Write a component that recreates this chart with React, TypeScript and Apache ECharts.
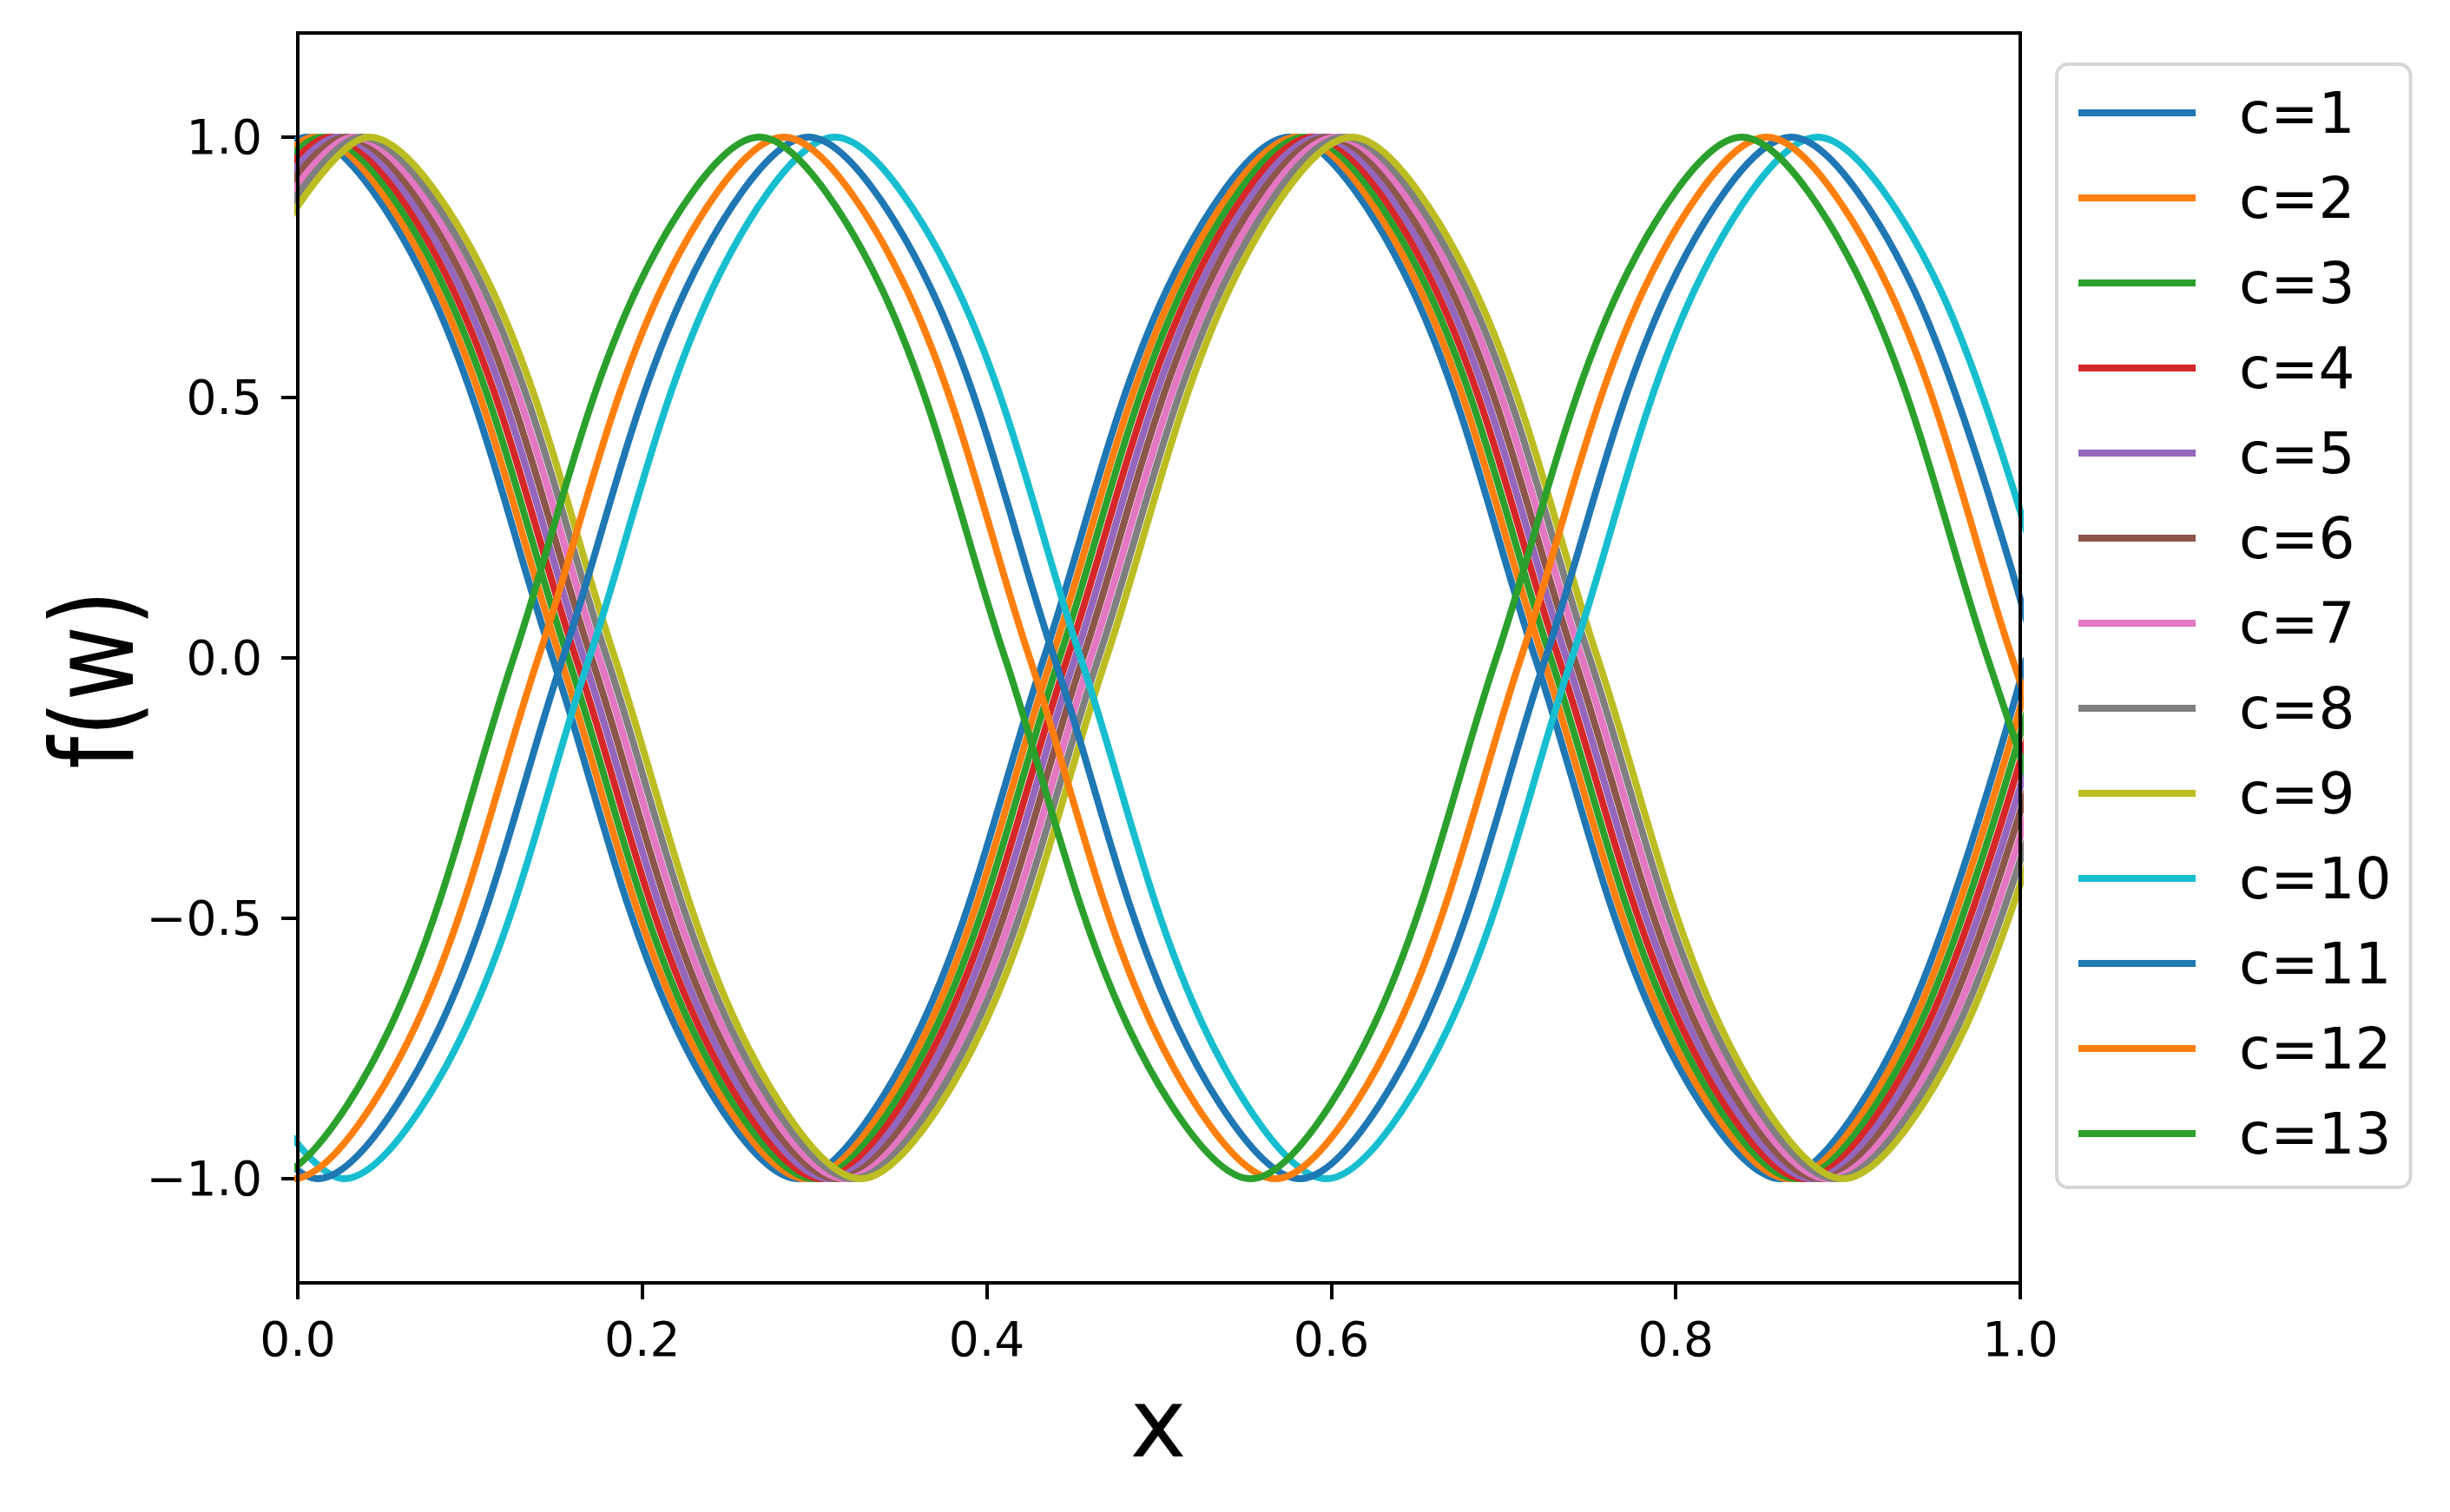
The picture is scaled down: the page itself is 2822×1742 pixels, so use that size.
import React, { useEffect, useRef } from "react";
import * as echarts from "echarts";

const FONT = "'DejaVu Sans', 'Noto Sans', sans-serif";

const LABELS = ["c=1", "c=2", "c=3", "c=4", "c=5", "c=6", "c=7", "c=8", "c=9", "c=10", "c=11", "c=12", "c=13"];
const COLORS = ["#1f77b4", "#ff7f0e", "#2ca02c", "#d62728", "#9467bd", "#8c564b", "#e377c2", "#7f7f7f", "#bcbd22", "#17becf", "#1f77b4", "#ff7f0e", "#2ca02c"];

const Y_TICKS = [-1, -0.5, 0, 0.5, 1];

// y readings of curves c=1..c=9 (peak first)
const Y_A = [0.707, 1, 0.707, 0, -0.707, -1, -0.707, 0, 0.707, 1, 0.707, 0, -0.707, -1, -0.707, 0];
// y readings of curves c=10..c=13 (trough first)
const Y_B = [-0.707, -1, -0.707, 0, 0.707, 1, 0.707, 0, -0.707, -1, -0.707, 0, 0.707, 1, 0.707, 0, -0.707];

// x positions, one list per curve
const X1 = [-0.066, 0.0053, 0.0766, 0.1479, 0.2192, 0.2905, 0.3619, 0.4332, 0.5045, 0.5758, 0.6471, 0.7184, 0.7897, 0.861, 0.9323, 1.0036];
const X2 = [-0.0615, 0.0098, 0.0811, 0.1524, 0.2237, 0.295, 0.3664, 0.4377, 0.509, 0.5803, 0.6516, 0.7229, 0.7942, 0.8655, 0.9368, 1.0081];
const X3 = [-0.057, 0.0143, 0.0856, 0.1569, 0.2282, 0.2995, 0.3709, 0.4422, 0.5135, 0.5848, 0.6561, 0.7274, 0.7987, 0.87, 0.9413, 1.0126];
const X4 = [-0.0524, 0.0189, 0.0902, 0.1615, 0.2328, 0.3041, 0.3755, 0.4468, 0.5181, 0.5894, 0.6607, 0.732, 0.8033, 0.8746, 0.9459, 1.0172];
const X5 = [-0.0479, 0.0234, 0.0947, 0.166, 0.2373, 0.3086, 0.38, 0.4513, 0.5226, 0.5939, 0.6652, 0.7365, 0.8078, 0.8791, 0.9504, 1.0217];
const X6 = [-0.0434, 0.0279, 0.0992, 0.1705, 0.2418, 0.3131, 0.3845, 0.4558, 0.5271, 0.5984, 0.6697, 0.741, 0.8123, 0.8836, 0.9549, 1.0262];
const X7 = [-0.0389, 0.0324, 0.1037, 0.175, 0.2463, 0.3176, 0.389, 0.4603, 0.5316, 0.6029, 0.6742, 0.7455, 0.8168, 0.8881, 0.9594, 1.0307];
const X8 = [-0.0344, 0.0369, 0.1082, 0.1795, 0.2508, 0.3221, 0.3935, 0.4648, 0.5361, 0.6074, 0.6787, 0.75, 0.8213, 0.8926, 0.9639, 1.0352];
const X9 = [-0.0298, 0.0415, 0.1128, 0.1841, 0.2554, 0.3267, 0.3981, 0.4694, 0.5407, 0.612, 0.6833, 0.7546, 0.8259, 0.8972, 0.9685, 1.0398];
const X10 = [-0.0447, 0.0266, 0.0979, 0.1692, 0.2405, 0.3118, 0.3832, 0.4545, 0.5258, 0.5971, 0.6684, 0.7397, 0.811, 0.8823, 0.9536, 1.0249];
const X11 = [-0.06, 0.0113, 0.0826, 0.1539, 0.2252, 0.2965, 0.3679, 0.4392, 0.5105, 0.5818, 0.6531, 0.7244, 0.7957, 0.867, 0.9383, 1.0096];
const X12 = [-0.0743, -0.003, 0.0683, 0.1396, 0.2109, 0.2822, 0.3536, 0.4249, 0.4962, 0.5675, 0.6388, 0.7101, 0.7814, 0.8527, 0.924, 0.9953, 1.0667];
const X13 = [-0.0886, -0.0173, 0.054, 0.1253, 0.1966, 0.2679, 0.3393, 0.4106, 0.4819, 0.5532, 0.6245, 0.6958, 0.7671, 0.8384, 0.9097, 0.981, 1.0524];

const X_LISTS = [X1, X2, X3, X4, X5, X6, X7, X8, X9, X10, X11, X12, X13];
const Y_LISTS = [Y_A, Y_A, Y_A, Y_A, Y_A, Y_A, Y_A, Y_A, Y_A, Y_B, Y_B, Y_B, Y_B];

const fmt = (v: number) => v.toFixed(1).replace("-", "\u2212");

export default function App() {
  const ref = useRef<HTMLDivElement>(null);
  useEffect(() => {
    if (!ref.current) return;
    const chart = echarts.init(ref.current, undefined, { renderer: "svg" });
    const series = LABELS.map((name, i) => ({
      name,
      type: "line",
      data: X_LISTS[i].map((x, j) => [x, Y_LISTS[i][j]]),
      showSymbol: false,
      symbol: "none",
      smooth: 0.33,
      clip: true,
      lineStyle: { width: 8, color: COLORS[i] },
      itemStyle: { color: COLORS[i] },
      silent: true,
    }));
    chart.setOption({
      animation: false,
      backgroundColor: "#ffffff",
      color: COLORS,
      textStyle: { fontFamily: FONT },
      grid: { left: 343, top: 38, right: 495, bottom: 264, containLabel: false },
      xAxis: {
        type: "value",
        min: 0,
        max: 1,
        interval: 0.2,
        position: "bottom",
        axisLine: { show: false, onZero: false },
        splitLine: { show: false },
        axisTick: { show: true, inside: false, length: 19, lineStyle: { color: "#000", width: 4 } },
        axisLabel: {
          formatter: fmt,
          color: "#000",
          fontFamily: FONT,
          fontSize: 55,
          lineHeight: 55,
          margin: 37,
        },
      },
      yAxis: {
        type: "value",
        min: -1.2,
        max: 1.2,
        position: "left",
        axisLine: { show: false, onZero: false },
        splitLine: { show: false },
        axisTick: {
          show: true,
          inside: false,
          length: 19,
          customValues: Y_TICKS,
          lineStyle: { color: "#000", width: 4 },
        },
        axisLabel: {
          customValues: Y_TICKS,
          formatter: fmt,
          color: "#000",
          fontFamily: FONT,
          fontSize: 55,
          lineHeight: 55,
          margin: 41,
        },
      },
      legend: {
        show: true,
        orient: "vertical",
        left: 2369,
        top: 74,
        data: LABELS,
        icon: "rect",
        itemWidth: 135,
        itemHeight: 8,
        itemGap: 28,
        padding: [21, 22, 27, 25],
        backgroundColor: "#ffffff",
        borderColor: "#d6d6d6",
        borderWidth: 4,
        borderRadius: 13,
        textStyle: {
          color: "#000",
          fontFamily: FONT,
          fontSize: 66,
          lineHeight: 70,
          padding: [0, 0, 0, 45],
        },
      },
      graphic: [
        {
          type: "rect",
          z: 100,
          silent: true,
          shape: { x: 343, y: 38, width: 1984, height: 1440 },
          style: { fill: "transparent", stroke: "#000", lineWidth: 4 },
        },
        {
          type: "text",
          z: 100,
          x: 1334,
          y: 1640,
          style: {
            text: "x",
            fill: "#000",
            font: `110px ${FONT}`,
            textAlign: "center",
            textVerticalAlign: "middle",
          },
        },
        {
          type: "text",
          z: 100,
          x: 107,
          y: 783,
          rotation: Math.PI / 2,
          scaleX: 0.8,
          style: {
            text: "f(w)",
            fill: "#000",
            font: `132px ${FONT}`,
            textAlign: "center",
            textVerticalAlign: "middle",
          },
        },
      ],
      series,
    });
    return () => chart.dispose();
  }, []);
  return (
    <div
      ref={ref}
      style={{ position: "fixed", left: 0, top: 0, width: 2822, height: 1742, background: "#fff" }}
    />
  );
}
